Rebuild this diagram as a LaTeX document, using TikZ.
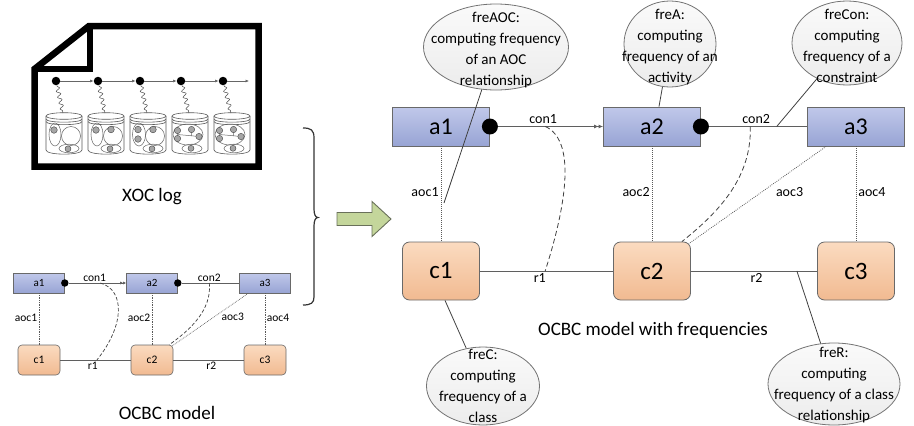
\documentclass[tikz,border=0pt]{standalone}
\usepackage{fontspec}
\setmainfont{Carlito}
\usetikzlibrary{arrows.meta,shapes.geometric,decorations.pathmorphing}

\definecolor{aTop}{RGB}{192,200,234}
\definecolor{aBot}{RGB}{152,164,212}
\definecolor{cTop}{RGB}{251,219,192}
\definecolor{cBot}{RGB}{241,186,145}
\definecolor{boxline}{RGB}{105,105,105}
\definecolor{wire}{RGB}{95,95,95}
\definecolor{arrowfill}{RGB}{196,214,155}
\definecolor{arrowline}{RGB}{105,112,90}
\definecolor{bubbleTop}{RGB}{250,250,250}
\definecolor{bubbleBot}{RGB}{236,236,236}

% jar outline in local coordinates (centre x = 0)
\newcommand{\jarbody}{%
  \draw[jar, fill=white] (-18,116) -- (-18,150) .. controls (-18,155.5) and (18,155.5) .. (18,150) -- (18,116);
  \draw[jar, fill=white] (0,116) ellipse [x radius=18, y radius=3.3];
  \draw[jar] (-18,119) .. controls (-18,123.2) and (18,123.2) .. (18,119);
  \draw[jar] (-18,121.5) .. controls (-18,125.7) and (18,125.7) .. (18,121.5);
}

\begin{document}
\begin{tikzpicture}[x=1pt,y=-1pt,
  abox/.style={draw=boxline, line width=0.8pt, top color=aTop, bottom color=aBot,
    minimum width=97pt, minimum height=39pt, inner sep=0pt, font=\fontsize{24}{24}\selectfont},
  cbox/.style={draw=boxline, line width=0.8pt, rounded corners=7pt, top color=cTop, bottom color=cBot,
    minimum width=77pt, minimum height=58pt, inner sep=0pt, font=\fontsize{25}{25}\selectfont},
  sabox/.style={abox, line width=0.6pt, minimum width=51pt, minimum height=20pt, font=\fontsize{11}{11}\selectfont},
  scbox/.style={cbox, line width=0.6pt, rounded corners=4pt, minimum width=42pt, minimum height=30pt, font=\fontsize{11.5}{11.5}\selectfont},
  port/.style={circle, fill=black, minimum size=16pt, inner sep=0pt},
  sport/.style={circle, fill=black, minimum size=7.5pt, inner sep=0pt},
  wire/.style={draw=wire, line width=0.9pt},
  swire/.style={draw=wire, line width=0.7pt},
  dbl/.style={-{Latex[length=4.5pt,width=4pt] Latex[length=4.5pt,width=4pt]}},
  sdbl/.style={-{Latex[length=3pt,width=3pt] Latex[length=3pt,width=3pt]}},
  aoc/.style={draw=black!65, line width=0.8pt, dash pattern=on 0.8pt off 1.2pt},
  saoc/.style={draw=black!65, line width=0.7pt, dash pattern=on 0.7pt off 1pt},
  dep/.style={draw=black!75, line width=0.8pt, dash pattern=on 5pt off 3pt},
  sdep/.style={draw=black!75, line width=0.7pt, dash pattern=on 3.5pt off 2pt},
  lbl/.style={font=\fontsize{14}{14}\selectfont, inner sep=2pt},
  slbl/.style={font=\fontsize{11.5}{11.5}\selectfont, inner sep=1.5pt},
  bubble/.style={ellipse, draw=black!55, line width=0.8pt, top color=bubbleTop, bottom color=bubbleBot, inner sep=0pt},
  btext/.style={align=center, font=\fontsize{15}{21}\selectfont, inner sep=0pt},
  note/.style={draw=black!75, line width=0.8pt},
  caption/.style={font=\fontsize{19}{19}\selectfont},
  jar/.style={draw=black!65, line width=0.6pt},
  inner/.style={draw=black!60, line width=0.5pt},
  gdot/.style={fill=black!35, draw=black!75, line width=0.4pt},
  evt/.style={circle, fill=black, minimum size=8.5pt, inner sep=0pt},
  tl/.style={draw=black!60, line width=0.6pt, -{Latex[length=3.5pt,width=3pt]}},
  wave/.style={draw=black!70, line width=0.5pt, decorate,
    decoration={snake, amplitude=2pt, segment length=6pt, pre length=1pt, post length=1pt}},
]
\useasboundingbox (0,0) rectangle (914,426);

% ---------- event log document ----------
\draw[line width=6.5pt, line join=miter, fill=white]
  (34.5,69) -- (89,26) -- (258.5,26) -- (258.5,166.5) -- (34.5,166.5) -- cycle;
\draw[line width=6.5pt, line join=miter] (34.5,69) -- (90,69) -- (90,26);

% jars (object models)
\begin{scope}[shift={(64,0)}]
  \jarbody
  \draw[inner] (-9,134.5) ellipse [x radius=6, y radius=11.5];
  \filldraw[gdot] (-10,130) circle (3.3);
  \draw[inner] (7,136) circle (9.5);
  \draw[inner] (5,148.5) ellipse [x radius=10, y radius=4.3];
  \filldraw[gdot] (4,148.8) circle (3);
\end{scope}
\begin{scope}[shift={(106,0)}]
  \jarbody
  \draw[inner] (-9,134.5) ellipse [x radius=6, y radius=11.5];
  \filldraw[gdot] (-10,130) circle (3.3);
  \draw[inner] (7,136) circle (9.5);
  \filldraw[gdot] (5,129.5) circle (3.3);
  \draw[inner] (5,148.5) ellipse [x radius=10, y radius=4.3];
  \filldraw[gdot] (4,148.8) circle (3);
\end{scope}
\begin{scope}[shift={(148,0)}]
  \jarbody
  \draw[inner] (-9,134.5) ellipse [x radius=6.5, y radius=11.5];
  \filldraw[gdot] (-10,129.5) circle (3.3);
  \filldraw[gdot] (-10,139) circle (3.3);
  \draw[inner] (7,136) circle (9.5);
  \filldraw[gdot] (5,129.5) circle (3.3);
  \draw[inner] (5,148.5) ellipse [x radius=10, y radius=4.3];
  \filldraw[gdot] (4,148.8) circle (3);
\end{scope}
\begin{scope}[shift={(190,0)}]
  \jarbody
  \draw[inner] (-2,134.5) ellipse [x radius=15, y radius=10.5];
  \draw[inner] (-12.5,131) -- (-12.5,138.5) (-12.5,134.5) -- (9,136.5) (1.5,129.5) -- (1.5,136);
  \filldraw[gdot] (-12.5,130.5) circle (3.2);
  \filldraw[gdot] (1.5,129.5) circle (3.2);
  \filldraw[gdot] (-12.5,138.5) circle (3.2);
  \filldraw[gdot] (9,136.5) circle (3.2);
  \draw[inner] (2,148.5) ellipse [x radius=10, y radius=4.3];
  \filldraw[gdot] (1,148.3) circle (3);
\end{scope}
\begin{scope}[shift={(232,0)}]
  \jarbody
  \draw[inner] (-2,134.5) ellipse [x radius=15, y radius=10.5];
  \draw[inner] (-12.5,131) -- (-12.5,138.5) (-12.5,134.5) -- (9,136.5) (1.5,129.5) -- (1.5,136);
  \filldraw[gdot] (-12.5,130.5) circle (3.2);
  \filldraw[gdot] (1.5,129.5) circle (3.2);
  \filldraw[gdot] (-12.5,138.5) circle (3.2);
  \filldraw[gdot] (9,136.5) circle (3.2);
  \draw[inner] (2,148.5) ellipse [x radius=10, y radius=4.3];
  \filldraw[gdot] (1,148.3) circle (3);
\end{scope}

% time line with events
\node[evt] (ev1) at (56,81) {};
\node[evt] (ev2) at (98,81) {};
\node[evt] (ev3) at (140,81) {};
\node[evt] (ev4) at (181,81) {};
\node[evt] (ev5) at (223,81) {};
\coordinate (tlend) at (249,81);
\draw[tl] (ev1) -- (ev2);
\draw[tl] (ev2) -- (ev3);
\draw[tl] (ev3) -- (ev4);
\draw[tl] (ev4) -- (ev5);
\draw[tl] (ev5) -- (tlend);
\coordinate (w1) at (63,113);
\coordinate (w2) at (105,113);
\coordinate (w3) at (147,113);
\coordinate (w4) at (189,113);
\coordinate (w5) at (231,113);
\draw[wave] (ev1) -- (w1);
\draw[wave] (ev2) -- (w2);
\draw[wave] (ev3) -- (w3);
\draw[wave] (ev4) -- (w4);
\draw[wave] (ev5) -- (w5);

\node[caption] (capLog) at (152,197) {XOC log};

% ---------- small OCBC model ----------
\node[sabox] (sa1) at (39,283) {a1};
\node[sabox] (sa2) at (152,283) {a2};
\node[sabox] (sa3) at (265,283) {a3};
\node[scbox] (sc1) at (39,360) {c1};
\node[scbox] (sc2) at (152,360) {c2};
\node[scbox] (sc3) at (265,360) {c3};
\node[sport] (sd1) at (sa1.east) {};
\node[sport] (sd2) at (sa2.east) {};

\draw[swire, sdbl] (sd1) -- node[slbl, above, pos=.45] (scon1) {con1} coordinate[pos=.55] (sk1) (sa2);
\draw[swire] (sd2) -- node[slbl, above, pos=.48] (scon2) {con2} coordinate[pos=.48] (sk2) (sa3);
\draw[swire] (sc1) -- node[slbl, below, pos=.46] (sr1) {r1} coordinate[pos=.52] (sk3) (sc2);
\draw[swire] (sc2) -- node[slbl, below, pos=.54] (sr2) {r2} (sc3);

\draw[saoc] (sa1) -- node[slbl, left, pos=.48] (saoc1) {aoc1} (sc1);
\draw[saoc] (sa2) -- node[slbl, left, pos=.48] (saoc2) {aoc2} (sc2);
\draw[saoc] (sa3) -- node[slbl, right, pos=.48] (saoc4) {aoc4} (sc3);
\draw[saoc] ([xshift=9pt]sa3.south west) -- node[slbl, right=6pt, pos=.45] (saoc3) {aoc3}
  ([xshift=-1.5pt,yshift=-1.5pt]sc2.north east);

\draw[sdep] (sk1) .. controls (125,290) and (125,325) .. (sk3);
\draw[sdep] (sk2) .. controls (212,310) and (190,330) .. ([xshift=-4pt]sc2.north east);

\node[caption] (capModel) at (167,413) {OCBC model};

% ---------- brace and arrow ----------
\draw[draw=black!80, line width=1.2pt] (303,128) .. controls (311,128) and (314,130) .. (314,138)
  -- (314,209) .. controls (314,214.5) and (315.5,217.5) .. (318,217.5)
  .. controls (315.5,217.5) and (314,220.5) .. (314,226) -- (314,297)
  .. controls (314,303) and (311,305) .. (303,305);
\draw[fill=arrowfill, draw=arrowline, line width=0.9pt, line join=miter]
  (337,212.5) -- (372,212.5) -- (372,201.5) -- (391,219) -- (372,236.5) -- (372,225.5) -- (337,225.5) -- cycle;

% ---------- OCBC model with frequencies ----------
\node[abox] (a1) at (441,126.5) {a1};
\node[abox] (a2) at (652,126.5) {a2};
\node[abox] (a3) at (856,126.5) {a3};
\node[cbox] (c1) at (441,271) {c1};
\node[cbox] (c2) at (652,271) {c2};
\node[cbox] (c3) at (856,271) {c3};
\node[port] (d1) at (a1.east) {};
\node[port] (d2) at (a2.east) {};

\draw[wire, dbl] (d1) -- node[lbl, above, pos=.43] (con1) {con1} coordinate[pos=.45] (k1) (a2);
\draw[wire] (d2) -- node[lbl, above, pos=.48] (con2) {con2}
  coordinate[pos=.42] (k2) coordinate[pos=.69] (k4) (a3);
\draw[wire] (c1) -- node[lbl, below, pos=.45] (r1) {r1} coordinate[pos=.49] (k3) (c2);
\draw[wire] (c2) -- node[lbl, below, pos=.52] (r2) {r2} coordinate[pos=.84] (k6) (c3);

\draw[aoc] (a1) -- node[lbl, left, pos=.48] (aoc1) {aoc1} (c1);
\draw[aoc] (a2) -- node[lbl, left, pos=.48] (aoc2) {aoc2} (c2);
\draw[aoc] (a3) -- node[lbl, right, pos=.48] (aoc4) {aoc4} (c3);
\draw[aoc] ([xshift=19pt]a3.south west) -- node[lbl, right=12pt, pos=.47] (aoc3) {aoc3}
  ([xshift=-2pt,yshift=-2pt]c2.north east);

\draw[dep] (k1) .. controls (575,140) and (568,200) .. (k3);
\draw[dep] (k2) .. controls (752,180) and (715,215) .. ([xshift=-9pt]c2.north east);

\node[caption] (capFreq) at (653,330) {OCBC model with frequencies};

% annotation bubbles
\node[bubble, minimum width=145pt, minimum height=86pt] (fAOC) at (496,47) {};
\node[btext] (fAOCt) at (496,50) {freAOC:\\computing frequency\\of an AOC\\relationship};
\node[bubble, minimum width=92pt, minimum height=86pt] (fA) at (670,44) {};
\node[btext] (fAt) at (670,47) {freA:\\computing\\frequency of an\\activity};
\node[bubble, minimum width=110pt, minimum height=84pt] (fCon) at (847,43) {};
\node[btext] (fCont) at (847,46) {freCon:\\computing\\frequency of a\\constraint};
\node[bubble, minimum width=113pt, minimum height=78pt] (fC) at (483,386) {};
\node[btext] (fCt) at (483,386) {freC:\\computing\\frequency of a\\class};
\node[bubble, minimum width=132pt, minimum height=82pt] (fR) at (834,384) {};
\node[btext] (fRt) at (834,385) {freR:\\computing\\frequency of a class\\relationship};

\coordinate (n1) at (444,203);
\draw[note] (fAOC) -- (n1);
\draw[note] (fA) -- ([xshift=7pt]a2.north);
\draw[note] (fCon) -- (k4);
\draw[note] ([xshift=4pt]c1.south) -- (fC);
\draw[note] (k6) -- (fR);
\end{tikzpicture}
\end{document}
